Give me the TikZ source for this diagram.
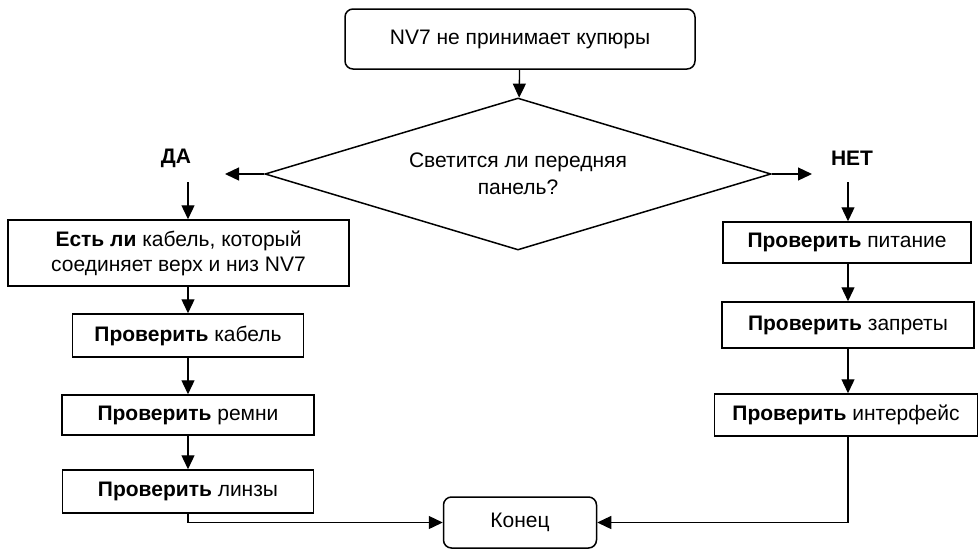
\documentclass[tikz,border=0pt]{standalone}
\usepackage{fontspec}
\setmainfont{Liberation Sans}
\usetikzlibrary{shapes.geometric,arrows.meta}

\begin{document}
\begin{tikzpicture}[x=1pt,y=-1pt,line width=1.3pt,
  terminal/.style={rectangle,rounded corners=8pt,draw=black,line width=1.5pt,font=\fontsize{21}{25}\selectfont},
  decision/.style={diamond,aspect=3.33,draw=black,line width=1.5pt,inner sep=0pt,minimum width=506pt,minimum height=152pt,align=center,font=\fontsize{21}{27}\selectfont},
  action/.style={rectangle,draw=black,line width=1.5pt,inner sep=0pt,align=center,font=\fontsize{21}{25}\selectfont},
  answer/.style={font=\fontsize{21}{25}\selectfont\bfseries},
  arr/.style={-{Triangle[length=14pt,width=13pt]}}]
  \useasboundingbox (0,0) rectangle (978,550);
  \path
  (520,39) node[terminal,minimum width=350pt,minimum height=60pt] (start) {NV7 не принимает купюры}
  (518,174) node[decision] (light) {Светится ли передняя\\панель?}

  (176,158) node[answer] (yes) {ДА}
  (852,158) node[answer] (no) {НЕТ}
  (225,174) coordinate (yesend)
  (812,174) coordinate (noend)
  (188,182) coordinate (yesdown)
  (848,182) coordinate (nodown)

  % left branch
  (178.5,253) node[action,minimum width=341pt,minimum height=66pt] (cable) {\textbf{Есть ли} кабель, который\\соединяет верх и низ NV7}
  (188,335.5) node[action,minimum width=231pt,minimum height=43pt] (chkcable) {\textbf{Проверить} кабель}
  (188,415) node[action,minimum width=252pt,minimum height=40pt] (chkbelts) {\textbf{Проверить} ремни}
  (188,491.5) node[action,minimum width=251pt,minimum height=43pt] (chklens) {\textbf{Проверить} линзы}

  % right branch
  (847,242.5) node[action,minimum width=248pt,minimum height=41pt] (chkpower) {\textbf{Проверить} питание}
  (848,325) node[action,minimum width=252pt,minimum height=46pt] (chkban) {\textbf{Проверить} запреты}
  (846,415) node[action,minimum width=263pt,minimum height=42pt] (chkiface) {\textbf{Проверить} интерфейс}

  (520,522.5) node[terminal,minimum width=153pt,minimum height=51pt] (end) {Конец}
  ;
  \draw[arr] (start) -- (light);
  \draw[arr] (light.west) -- (yesend);
  \draw[arr] (light.east) -- (noend);
  \draw[arr] (yesdown) -- (yesdown |- cable.north);
  \draw[arr] (nodown) -- (nodown |- chkpower.north);
  \draw[arr] (chkcable.north |- cable.south) -- (chkcable);
  \draw[arr] (chkcable) -- (chkbelts);
  \draw[arr] (chkbelts) -- (chklens);
  \draw[arr] (nodown |- chkpower.south) -- (nodown |- chkban.north);
  \draw[arr] (nodown |- chkban.south) -- (nodown |- chkiface.north);
  \draw[arr] (chklens.south) |- (end.west);
  \draw[arr] (nodown |- chkiface.south) |- (end.east);
\end{tikzpicture}
\end{document}
